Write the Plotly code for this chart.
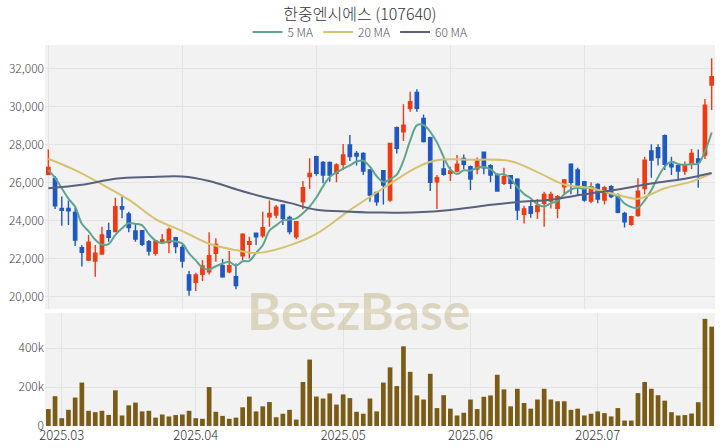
import pandas as pd
import plotly.graph_objects as go
from plotly.subplots import make_subplots

# ---------------- data ----------------
start_date = "2025-02-27"
end_date = "2025-07-24"
holidays = ["2025-03-03", "2025-05-01", "2025-05-05", "2025-05-06", "2025-06-03", "2025-06-06"]
dates = [d for d in pd.bdate_range(start_date, end_date) if d.strftime("%Y-%m-%d") not in holidays]

opens = [26430, 26220, 24640, 24640, 24430, 22575, 21930, 21870, 22240, 23470,
         23420, 24730, 24345, 23450, 23470, 22890, 22280, 22840, 22840, 23100,
         22590, 21140, 20750, 21170, 21310, 22280, 21630, 21310, 21050, 22150,
         22750, 23330, 23200, 24200, 24290, 24820, 24170, 23150, 24990, 26310,
         27360, 27060, 27060, 26480, 26960, 27970, 27530, 27530, 26660, 25480,
         26620, 25080, 28880, 28670, 29900, 30740, 29370, 28360, 26040, 26710,
         26480, 26610, 27270, 26830, 26710, 27590, 26890, 26430, 25960, 26360,
         26180, 24330, 24730, 24470, 24910, 25030, 24640, 25780, 26960, 26660,
         26040, 25030, 25900, 25080, 25780, 25340, 24380, 23800, 24260, 25690,
         27660, 27830, 28460, 26960, 26890, 26610, 27010, 27240, 27450, 31130]
highs = [27740, 26340, 25260, 25050, 24680, 22720, 23240, 22720, 23680, 23890,
         25200, 25260, 24470, 23850, 23500, 22980, 22980, 23290, 23630, 23150,
         22720, 21350, 21260, 21930, 23380, 23070, 21980, 22400, 21750, 23330,
         23150, 23360, 24470, 25050, 24820, 24850, 24260, 23940, 26080, 27270,
         27410, 27130, 27100, 27010, 28020, 28500, 27660, 27590, 26710, 25520,
         26660, 28090, 28940, 30110, 30770, 30910, 29580, 28410, 26390, 27270,
         26830, 27450, 27480, 26890, 27310, 27620, 26960, 26480, 26780, 26390,
         26220, 24780, 25080, 25130, 25520, 25520, 25340, 26180, 27010, 26780,
         26080, 26010, 25960, 25830, 25870, 25430, 24470, 24260, 26220, 27360,
         28010, 28010, 28530, 27360, 26960, 27100, 27760, 27740, 30390, 32530]
lows = [26400, 24610, 23730, 23770, 22660, 21580, 21870, 21050, 22220, 22890,
        23380, 24120, 23380, 22890, 22660, 22150, 22150, 22800, 22280, 22280,
        21520, 20050, 20300, 20820, 21170, 21840, 21000, 21230, 20390, 21930,
        22010, 22720, 23100, 23680, 24120, 23770, 23280, 23030, 24590, 25660,
        26360, 25960, 26040, 26010, 26660, 27130, 26890, 26390, 24990, 24780,
        24850, 24990, 27530, 28180, 29720, 29720, 28110, 25550, 24610, 26360,
        26080, 26540, 26710, 25610, 26430, 26430, 26010, 25520, 25870, 25660,
        24030, 23850, 24150, 24080, 23680, 24640, 24120, 25340, 25380, 25340,
        24990, 24910, 24910, 24850, 25170, 24380, 23630, 23730, 24200, 25380,
        26250, 26890, 26660, 26390, 26130, 26390, 26710, 25730, 27240, 29810]
closes = [26790, 24780, 24540, 24520, 22980, 22330, 22860, 22280, 23240, 23120,
          24730, 24610, 23640, 23030, 22750, 22400, 22930, 22980, 23540, 22630,
          21870, 20350, 21140, 21610, 22150, 22750, 21050, 21630, 20580, 23280,
          22890, 23150, 23630, 24380, 24700, 24120, 23420, 23940, 25730, 26480,
          26480, 26390, 26390, 26920, 27450, 27360, 27390, 26600, 25340, 24990,
          25870, 28060, 27800, 29020, 30250, 29900, 28150, 26010, 26250, 26430,
          26610, 26960, 26960, 26180, 27180, 26780, 26390, 25550, 26310, 25960,
          24560, 24610, 24380, 24780, 25380, 25380, 25260, 26130, 26010, 25870,
          25080, 25780, 25130, 25730, 25260, 24430, 23940, 24200, 25550, 27180,
          27180, 27310, 26960, 26830, 26610, 26920, 27530, 27060, 30070, 31560]
volumes_k = [87, 153, 40, 83, 146, 223, 78, 71, 78, 57,
             183, 54, 106, 120, 75, 78, 43, 59, 49, 56,
             59, 78, 40, 37, 200, 73, 52, 37, 43, 96,
             151, 75, 101, 123, 45, 63, 83, 33, 226, 341,
             151, 141, 167, 110, 162, 143, 73, 63, 141, 75,
             223, 301, 205, 409, 278, 157, 136, 268, 92, 158,
             89, 54, 68, 136, 87, 150, 157, 263, 188, 101,
             191, 118, 89, 136, 191, 136, 127, 127, 83, 89,
             54, 63, 75, 66, 49, 92, 28, 28, 169, 226,
             191, 158, 130, 71, 54, 56, 64, 122, 550, 510]

# moving-average values (first MA5 points and the longer MAs)
ma5_head = [26650, 26250, 25700, 25150]
ma20_idx = [0, 4, 8, 12, 16, 20, 24, 28, 31, 35, 40, 45, 50, 55, 58, 63, 69, 73, 77, 81, 85, 88, 92, 96, 99]
ma20_val = [27250, 26650, 25900, 25100, 24080, 23450, 22780, 22450, 22290, 22580, 23300, 24550, 25700,
            26800, 27170, 27200, 27120, 26550, 25900, 25700, 25350, 25150, 25700, 26050, 26480]
ma60_idx = [0, 5, 10, 15, 20, 24, 28, 32, 36, 40, 45, 50, 55, 60, 65, 70, 75, 80, 85, 90, 95, 99]
ma60_val = [25700, 25880, 26200, 26290, 26320, 26080, 25650, 25250, 24930, 24570, 24470, 24420,
            24440, 24560, 24780, 24980, 25100, 25380, 25630, 25950, 26200, 26500]

month_keys = ["2025-03", "2025-04", "2025-05", "2025-06", "2025-07"]
month_labels = ["2025.03", "2025.04", "2025.05", "2025.06", "2025.07"]
price_ticks = [20000, 22000, 24000, 26000, 28000, 30000, 32000]
title_text = "한중엔시에스 (107640)"

# ---------------- derived ----------------
n = len(closes)
idx = list(range(n))
volumes = [v * 1000 for v in volumes_k]
ma5 = pd.Series(closes).rolling(5).mean().tolist()
ma5[:4] = ma5_head
month_pos = []
for m in month_keys:
    for i, d in enumerate(dates):
        if d.strftime("%Y-%m") == m:
            month_pos.append(i)
            break

RED = "#ef3b12"
BLUE = "#1f58c4"
FONT = "Noto Sans CJK KR"

fig = make_subplots(rows=2, cols=1)

fig.add_trace(go.Candlestick(
    x=idx, open=opens, high=highs, low=lows, close=closes,
    increasing=dict(line=dict(color=RED, width=1.4), fillcolor=RED),
    decreasing=dict(line=dict(color=BLUE, width=1.4), fillcolor=BLUE),
    whiskerwidth=0, showlegend=False, hoverinfo="skip"), row=1, col=1)

fig.add_trace(go.Scatter(x=idx, y=ma5, mode="lines", name="5 MA",
                         line=dict(color="#5ea58f", width=2, shape="spline")), row=1, col=1)
fig.add_trace(go.Scatter(x=ma20_idx, y=ma20_val, mode="lines", name="20 MA",
                         line=dict(color="#d6c26e", width=2, shape="spline")), row=1, col=1)
fig.add_trace(go.Scatter(x=ma60_idx, y=ma60_val, mode="lines", name="60 MA",
                         line=dict(color="#59617d", width=2, shape="spline")), row=1, col=1)

fig.add_trace(go.Bar(x=idx, y=volumes, marker=dict(color="#7a5c16", line=dict(width=0)),
                     showlegend=False), row=2, col=1)

fig.update_layout(
    width=720, height=448,
    margin=dict(l=45, r=5, t=45, b=22, autoexpand=False),
    paper_bgcolor="white", plot_bgcolor="#f2f2f2",
    font=dict(family=FONT, color="#444", size=12, weight=300),
    title=dict(text=title_text, x=0.5, xanchor="center", xref="container",
               y=1 - 14 / 448, yanchor="middle", yref="container",
               font=dict(size=16, color="#333", family=FONT, weight=300)),
    legend=dict(orientation="h", x=0.5, xanchor="center", xref="container",
                y=1 - 32 / 448, yanchor="middle", yref="container",
                font=dict(size=12, color="#555", weight=300),
                itemwidth=30, bgcolor="rgba(0,0,0,0)"),
    bargap=0.3,
    showlegend=True,
)

fig.update_xaxes(range=[-0.5, n - 0.5], showgrid=True, gridcolor="#e3e3e3", zeroline=False,
                 showline=False, ticks="", automargin=False)
fig.update_yaxes(automargin=False)
fig.update_layout(
    xaxis=dict(rangeslider=dict(visible=False), tickmode="linear", tick0=0, dtick=20,
               showticklabels=False, matches="x2"),
    xaxis2=dict(tickmode="array", tickvals=month_pos, ticktext=month_labels,
                tickfont=dict(size=13, color="#333")),
    yaxis=dict(domain=[0.307, 1.0], range=[19350, 33230], tickvals=price_ticks,
               tickformat=",", gridcolor="#e3e3e3", zeroline=False, ticks="",
               tickfont=dict(size=12, color="#444")),
    yaxis2=dict(domain=[0.0, 0.2966], range=[0, 580000], tickvals=[0, 200000, 400000],
                tickformat="~s", gridcolor="#e3e3e3", zeroline=False, ticks="",
                tickfont=dict(size=12, color="#444")),
)

fig.add_annotation(text="<b>BeezBase</b>", xref="paper", yref="paper", x=0.468, y=0.304,
                   xanchor="center", yanchor="middle", showarrow=False,
                   font=dict(size=52, color="rgba(200,190,150,0.55)", family="Lato"))

fig.write_html("out.html", config={"displayModeBar": False},
               post_script="document.body.style.margin='0';document.body.style.padding='0';")
